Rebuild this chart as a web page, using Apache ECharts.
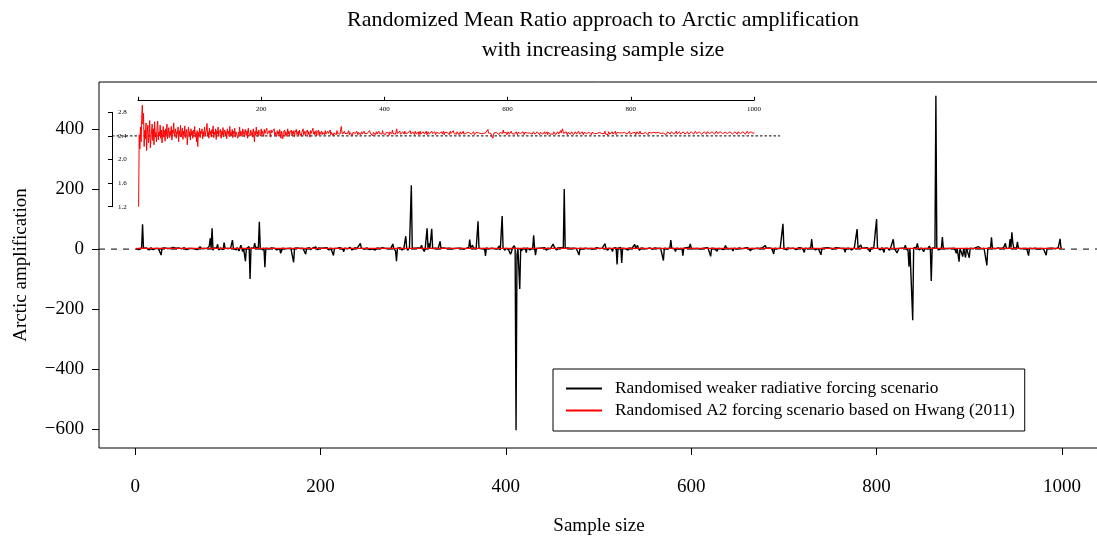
<!DOCTYPE html>
<html>
<head>
<meta charset="utf-8">
<script src="https://cdn.jsdelivr.net/npm/echarts@6.0.0/dist/echarts.min.js"></script>
<style>html,body{margin:0;padding:0;background:#fff}#c{width:1097px;height:539px}</style>
</head>
<body>
<div id="c"></div>
<script>
// ---- data ----
const titleText = 'Randomized Mean Ratio approach to Arctic amplification\nwith increasing sample size';
const blackName = 'Randomised weaker radiative forcing scenario';
const redName = 'Randomised A2 forcing scenario based on Hwang (2011)';
const xTicks = [0, 200, 400, 600, 800, 1000];
const yTicks = [-600, -400, -200, 0, 200, 400];
const insetXTicks = [0, 200, 400, 600, 800, 1000];
const insetYTicks = [1.2, 1.6, 2.0, 2.4, 2.8];
const refLineMain = 0;
const refLineInset = 2.4;

const blackValues = [
2,3,1,-2,4,2,5,83,3,-1, 2,4,1,3,-3,2,5,1,-2,3, 4,2,-1,3,2,5,1,-20,3,2, 1,4,-2,3,2,1,5,2,-3,4, 6,2,1,3,-1,2,4,3,-2,1,
3,2,5,1,-2,3,4,2,1,-1, 2,4,3,1,5,2,-2,3,4,8, 2,1,3,-3,2,4,1,3,5,10, 36,4,69,-4,3,6,2,5,16,-3, 2,4,1,3,-2,22,3,1,5,2,
4,-2,3,6,30,2,1,4,-3,5, 3,-6,2,13,4,-8,3,5,-40,2, 6,3,8,-100,4,2,9,3,20,5, 2,4,6,91,3,2,5,-3,4,-60, 3,2,5,1,-2,3,4,2,1,3,
2,4,-3,3,1,2,-14,-10,3,2, 5,1,3,-2,2,4,1,3,-3,2, -44,3,2,1,4,-2,3,2,5,1, 3,2,4,-17,2,1,3,5,-2,3, 2,4,1,3,7,2,-3,4,2,1,
3,2,-2,4,1,3,5,2,-3,2, 4,1,3,-21,2,4,-4,3,1,2, 5,2,3,1,-9,3,2,4,1,3, 2,6,1,-3,3,2,4,1,3,5, 2,7,19,3,-2,4,1,3,2,4,
1,3,-2,2,4,1,5,3,-3,2, 4,1,3,2,-2,3,5,1,4,2, 3,-3,2,4,1,3,6,17,2,4, -6,-40,3,2,4,5,2,-3,3,4, 6,43,3,-4,2,5,3,213,4,2,
8,3,-3,2,4,1,3,5,13,2, 4,-8,3,6,69,4,19,3,5,68, 2,4,-3,3,1,4,2,6,26,3, 2,1,4,-2,3,2,5,1,3,2, 4,1,-3,3,2,4,1,3,2,-2,
3,2,4,1,3,-2,2,5,3,6, 32,4,2,13,3,-2,4,3,5,93, 3,2,4,1,-3,3,2,-23,4,2, 3,1,4,-2,3,2,6,1,3,5, 2,4,11,-3,3,110,4,2,-4,3,
2,4,-3,3,-17,-10,3,6,11,4, -604,-20,4,5,-133,3,-6,2,4,-3, 3,-12,4,2,5,-3,3,2,4,46, 3,-20,2,4,1,3,-3,2,4,3, 2,5,1,-4,3,2,4,1,3,6,
17,8,3,2,-3,4,2,3,5,1, 3,4,200,3,2,-2,4,1,3,2, 4,1,3,5,-3,2,4,1,-20,3, 2,4,1,3,-2,3,5,2,1,4, 3,2,-3,4,1,3,2,5,1,3,
2,4,-3,3,5,6,18,3,2,-4, 3,2,4,1,-8,3,2,4,5,-51, 3,2,4,6,-46,3,2,4,1,3, 2,-3,4,1,3,2,5,4,16,3, 2,12,3,-4,2,4,1,3,2,5,
3,1,-3,2,4,2,3,1,5,2, 4,-2,3,2,1,4,3,5,2,-38, 3,2,4,1,3,6,4,30,3,2, 4,1,-8,3,2,4,1,3,-3,2, -22,3,2,4,5,1,3,6,17,3,
2,4,1,-3,3,2,4,5,1,3, 6,2,-3,3,4,1,2,5,3,2, -24,3,4,1,2,5,3,-7,2,4, 3,1,4,2,-2,3,12,4,2,3, 1,3,4,2,-6,3,2,4,1,3,
2,4,10,3,1,-3,2,4,3,2, 5,1,3,-6,2,4,3,1,5,2, 3,-2,4,2,1,3,5,2,4,12, 3,2,-3,4,1,3,2,5,-16,3, 2,4,1,3,-2,3,5,6,84,4,
2,3,-3,4,1,3,2,5,1,3, 4,2,-2,3,1,5,3,10,4,2, -3,-11,3,2,4,1,3,2,6,33, 3,2,4,-3,1,3,2,4,5,-19, 2,3,1,4,-2,3,5,2,8,3,
2,4,1,-3,3,5,11,2,4,1, 3,2,-2,4,3,-11,2,5,1,3, 4,2,-3,3,1,4,6,5,67,3, 5,2,14,3,1,-2,4,3,2,5, 3,1,-9,4,2,3,5,1,4,100,
4,2,3,-3,1,5,2,-11,3,4, 2,3,1,-4,3,5,7,33,4,2, 3,-13,-12,2,4,1,3,5,2,3, 13,2,4,-6,-59,3,5,2,-237,4, 2,3,6,19,4,-3,2,4,1,3,
-8,2,4,3,1,5,10,3,-106,4, 2,3,5,511,4,2,-3,3,1,4, 40,3,2,4,1,3,-2,2,4,3, 2,4,1,3,3,-14,2,4,-42,3, 2,4,-25,3,2,-28,4,3,2,-29,
3,2,4,1,3,2,5,1,4,8, 2,4,1,3,-3,2,4,3,-54,3, 2,4,5,39,3,2,4,1,3,2, 4,3,9,2,4,1,5,3,19,2, 4,6,3,33,5,56,20,4,2,3,
4,24,3,2,4,1,3,5,2,3, 4,2,3,-22,3,2,4,1,3,4, 3,2,5,1,4,-3,2,3,4,1, 3,5,-20,2,4,1,3,2,-3,3, 2,4,1,3,2,5,3,34,2,3
];

const redValues = [
1.20,2.42,2.18,2.55,2.30,2.70,2.92,2.60,2.78,2.22, 2.50,2.35,2.62,2.15,2.45,2.58,2.28,2.40,2.66,2.20,
2.17,2.48,2.60,2.32,2.52,2.25,2.64,2.38,2.46,2.30, 2.55,2.65,2.33,2.47,2.40,2.58,2.36,2.50,2.28,2.44,
2.56,2.38,2.49,2.31,2.52,2.42,2.60,2.35,2.45,2.54, 2.37,2.48,2.41,2.56,2.33,2.50,2.44,2.62,2.39,2.46,
2.52,2.36,2.47,2.43,2.55,2.30,2.49,2.41,2.58,2.38, 2.45,2.53,2.34,2.48,2.42,2.57,2.37,2.46,2.51,2.25,
2.44,2.55,2.39,2.47,2.33,2.52,2.41,2.48,2.36,2.50, 2.43,2.56,2.38,2.45,2.30,2.49,2.22,2.46,2.40,2.53,
2.37,2.48,2.44,2.52,2.35,2.47,2.41,2.55,2.39,2.46, 2.50,2.61,2.40,2.47,2.36,2.53,2.42,2.48,2.38,2.51,
2.44,2.57,2.37,2.46,2.42,2.52,2.34,2.49,2.43,2.55, 2.39,2.47,2.44,2.51,2.36,2.48,2.42,2.54,2.38,2.46,
2.50,2.41,2.47,2.35,2.52,2.44,2.48,2.39,2.56,2.42, 2.46,2.40,2.51,2.37,2.48,2.43,2.53,2.38,2.47,2.44,
2.50,2.36,2.46,2.42,2.55,2.40,2.48,2.44,2.39,2.52, 2.43,2.47,2.38,2.51,2.45,2.41,2.49,2.36,2.53,2.44,
2.47,2.40,2.50,2.42,2.46,2.38,2.52,2.44,2.30,2.48, 2.41,2.55,2.43,2.47,2.39,2.50,2.44,2.46,2.40,2.52,
2.42,2.48,2.45,2.39,2.51,2.44,2.47,2.41,2.53,2.43, 2.46,2.40,2.49,2.44,2.38,2.50,2.45,2.42,2.48,2.43,
2.52,2.41,2.46,2.44,2.39,2.49,2.43,2.47,2.40,2.51, 2.44,2.36,2.48,2.42,2.35,2.46,2.43,2.50,2.41,2.47,
2.45,2.39,2.52,2.43,2.48,2.41,2.46,2.44,2.50,2.40, 2.47,2.43,2.49,2.38,2.46,2.44,2.51,2.42,2.45,2.48,
2.41,2.50,2.44,2.47,2.39,2.46,2.43,2.52,2.42,2.45, 2.48,2.40,2.46,2.44,2.50,2.42,2.47,2.43,2.38,2.49,
2.44,2.46,2.41,2.53,2.43,2.47,2.42,2.45,2.49,2.40, 2.46,2.44,2.50,2.41,2.47,2.43,2.45,2.48,2.42,2.46,
2.44,2.47,2.42,2.49,2.43,2.45,2.41,2.48,2.44,2.46, 2.43,2.50,2.42,2.46,2.44,2.47,2.40,2.45,2.48,2.43,
2.46,2.42,2.49,2.44,2.47,2.41,2.45,2.43,2.51,2.56, 2.47,2.43,2.45,2.42,2.48,2.44,2.46,2.41,2.47,2.44,
2.45,2.49,2.42,2.46,2.43,2.48,2.44,2.40,2.46,2.45, 2.43,2.47,2.44,2.41,2.48,2.45,2.42,2.46,2.44,2.49,
2.42,2.45,2.47,2.43,2.46,2.40,2.48,2.44,2.45,2.42, 2.47,2.44,2.41,2.46,2.43,2.49,2.45,2.42,2.47,2.44,
2.40,2.46,2.45,2.48,2.42,2.44,2.47,2.43,2.46,2.41, 2.48,2.44,2.42,2.46,2.45,2.43,2.49,2.44,2.41,2.47,
2.45,2.42,2.46,2.44,2.48,2.43,2.45,2.41,2.47,2.44, 2.46,2.43,2.50,2.44,2.42,2.47,2.45,2.43,2.46,2.52,
2.44,2.47,2.42,2.45,2.48,2.43,2.46,2.44,2.41,2.47, 2.45,2.43,2.48,2.44,2.46,2.42,2.47,2.45,2.43,2.46,
2.44,2.49,2.43,2.45,2.41,2.47,2.44,2.46,2.42,2.48, 2.45,2.43,2.46,2.44,2.47,2.42,2.45,2.48,2.43,2.46,
2.44,2.41,2.47,2.45,2.43,2.46,2.44,2.48,2.42,2.45, 2.47,2.44,2.43,2.46,2.45,2.42,2.48,2.44,2.46,2.43,
2.45,2.47,2.42,2.44,2.46,2.43,2.49,2.45,2.44,2.41, 2.46,2.44,2.47,2.43,2.45,2.48,2.42,2.46,2.44,2.45,
2.43,2.46,2.44,2.47,2.42,2.45,2.48,2.44,2.46,2.43, 2.45,2.49,2.44,2.42,2.46,2.45,2.43,2.47,2.44,2.46,
2.42,2.45,2.47,2.44,2.43,2.46,2.45,2.48,2.43,2.44, 2.46,2.43,2.45,2.47,2.44,2.42,2.46,2.45,2.48,2.44,
2.43,2.46,2.44,2.45,2.47,2.42,2.45,2.44,2.46,2.43, 2.47,2.44,2.45,2.42,2.46,2.48,2.44,2.43,2.46,2.45,
2.44,2.47,2.43,2.45,2.46,2.44,2.48,2.51,2.45,2.43, 2.46,2.42,2.44,2.40,2.37,2.36,2.41,2.45,2.44,2.47,
2.43,2.46,2.45,2.44,2.47,2.42,2.45,2.46,2.44,2.43, 2.46,2.44,2.50,2.45,2.43,2.47,2.44,2.46,2.42,2.45,
2.47,2.44,2.43,2.46,2.45,2.48,2.44,2.42,2.46,2.45, 2.43,2.46,2.44,2.47,2.45,2.42,2.46,2.44,2.48,2.45,
2.44,2.46,2.43,2.45,2.47,2.44,2.42,2.46,2.45,2.43, 2.47,2.45,2.44,2.46,2.42,2.45,2.48,2.44,2.46,2.43,
2.45,2.47,2.44,2.43,2.46,2.45,2.42,2.47,2.44,2.46, 2.44,2.42,2.46,2.45,2.48,2.44,2.43,2.46,2.45,2.47,
2.43,2.45,2.44,2.47,2.42,2.46,2.45,2.44,2.48,2.43, 2.46,2.44,2.45,2.43,2.47,2.44,2.46,2.42,2.45,2.44,
2.47,2.45,2.43,2.46,2.44,2.49,2.45,2.43,2.52,2.48, 2.44,2.46,2.43,2.45,2.47,2.44,2.42,2.46,2.45,2.44,
2.46,2.43,2.45,2.47,2.44,2.46,2.42,2.45,2.44,2.47, 2.45,2.43,2.46,2.44,2.48,2.45,2.43,2.46,2.44,2.45,
2.47,2.44,2.42,2.46,2.45,2.43,2.47,2.44,2.46,2.45, 2.43,2.46,2.44,2.45,2.47,2.42,2.46,2.44,2.45,2.48,
2.44,2.46,2.43,2.45,2.44,2.47,2.45,2.42,2.46,2.44, 2.45,2.47,2.44,2.43,2.46,2.45,2.44,2.48,2.43,2.45,
2.46,2.44,2.42,2.47,2.45,2.43,2.46,2.44,2.45,2.47, 2.43,2.46,2.45,2.44,2.48,2.42,2.45,2.46,2.44,2.43,
2.47,2.45,2.44,2.46,2.43,2.45,2.47,2.44,2.42,2.46, 2.45,2.44,2.47,2.43,2.46,2.45,2.44,2.48,2.43,2.45,
2.46,2.44,2.45,2.43,2.47,2.44,2.46,2.42,2.45,2.47, 2.44,2.46,2.43,2.45,2.48,2.44,2.45,2.43,2.46,2.44,
2.47,2.45,2.43,2.46,2.44,2.45,2.47,2.42,2.46,2.45, 2.44,2.46,2.45,2.43,2.47,2.44,2.46,2.45,2.43,2.46,
2.45,2.44,2.47,2.43,2.46,2.45,2.44,2.48,2.44,2.45, 2.46,2.43,2.45,2.47,2.44,2.46,2.42,2.45,2.44,2.47,
2.45,2.44,2.46,2.43,2.45,2.47,2.44,2.46,2.45,2.43, 2.46,2.44,2.45,2.48,2.43,2.45,2.46,2.44,2.47,2.45,
2.43,2.46,2.44,2.45,2.47,2.44,2.46,2.43,2.45,2.46, 2.44,2.47,2.45,2.43,2.46,2.44,2.45,2.47,2.44,2.46,
2.45,2.43,2.46,2.44,2.48,2.45,2.44,2.46,2.43,2.45, 2.47,2.44,2.46,2.45,2.43,2.46,2.44,2.45,2.47,2.44,
2.46,2.45,2.43,2.47,2.44,2.46,2.45,2.44,2.46,2.43, 2.45,2.47,2.44,2.46,2.45,2.43,2.46,2.44,2.48,2.45,
2.44,2.46,2.45,2.43,2.47,2.44,2.46,2.45,2.44,2.46, 2.45,2.43,2.46,2.44,2.47,2.45,2.44,2.46,2.43,2.45,
2.47,2.44,2.46,2.45,2.43,2.46,2.44,2.45,2.47,2.44, 2.46,2.45,2.43,2.47,2.44,2.46,2.45,2.44,2.46,2.43,
2.45,2.47,2.44,2.46,2.45,2.43,2.46,2.44,2.48,2.45, 2.44,2.46,2.45,2.43,2.47,2.44,2.46,2.45,2.44,2.46
];

// ---- build chart ----
const sampleSizes = blackValues.map((_, i) => i + 1);
const blackData = blackValues.map((v, i) => [sampleSizes[i], v]);
const redData = redValues.map((v, i) => [sampleSizes[i], v]);
const FONT = '"Liberation Serif", "Times New Roman", serif';
const plain = v => String(v).replace('-', '\u2212');

const chart = echarts.init(document.getElementById('c'), null, { renderer: 'canvas' });
chart.setOption({
  animation: false,
  backgroundColor: '#fff',
  title: {
    text: titleText, left: 598, top: 0, textAlign: 'center',
    textStyle: { fontFamily: FONT, fontSize: 22, fontWeight: 'normal', lineHeight: 30, color: '#000' }
  },
  legend: {
    data: [blackName, redName], orient: 'vertical', left: 553, top: 369,
    padding: [11, 10, 12, 13], itemGap: 5, itemWidth: 36, itemHeight: 2, icon: 'rect',
    borderColor: '#000', borderWidth: 1, backgroundColor: '#fff',
    textStyle: { fontFamily: FONT, fontSize: 17.4, color: '#000', padding: [0, 0, 0, 8] }
  },
  grid: [
    { left: 99, width: 1000, top: 82, height: 366, show: true, borderColor: '#000', borderWidth: 1, backgroundColor: 'transparent', outerBoundsMode: 'none' },
    { left: 138, width: 616, top: 112.3, height: 94.4, outerBoundsMode: 'none' },
    { left: 112, width: 668, top: 112.3, height: 94.4, outerBoundsMode: 'none' }
  ],
  xAxis: [
    {
      type: 'value', gridIndex: 0, min: -39, max: 1040,
      axisLine: { show: false, onZero: false },
      splitLine: { show: false },
      axisTick: { show: true, length: 7, lineStyle: { color: '#000' }, customValues: xTicks },
      axisLabel: { customValues: xTicks, margin: 30, fontFamily: FONT, fontSize: 19, color: '#000', formatter: plain },
      name: 'Sample size', nameLocation: 'middle', nameGap: 69,
      nameTextStyle: { fontFamily: FONT, fontSize: 19, color: '#000' }
    },
    {
      type: 'value', gridIndex: 1, min: 0, max: 1000, interval: 200, position: 'top', offset: 12,
      axisLine: { show: true, onZero: false, lineStyle: { color: '#000', width: 1 } },
      splitLine: { show: false },
      axisTick: { show: true, inside: false, length: 3.5, lineStyle: { color: '#000' }, customValues: insetXTicks },
      axisLabel: { inside: true, margin: 5.5, fontFamily: FONT, fontSize: 7, color: '#000', formatter: plain,
        customValues: insetXTicks.filter(v => v > 0) }
    },
    {
      type: 'value', gridIndex: 2, min: -42, max: 1042, show: false
    }
  ],
  yAxis: [
    {
      type: 'value', gridIndex: 0, min: -663, max: 557,
      axisLine: { show: false, onZero: false },
      splitLine: { show: false },
      axisTick: { show: true, length: 7, lineStyle: { color: '#000' }, customValues: yTicks },
      axisLabel: { customValues: yTicks, margin: 15, fontFamily: FONT, fontSize: 19, color: '#000', formatter: plain },
      name: 'Arctic amplification', nameLocation: 'middle', nameGap: 68,
      nameTextStyle: { fontFamily: FONT, fontSize: 19, color: '#000' }
    },
    {
      type: 'value', gridIndex: 1, min: 1.2, max: 2.8, position: 'left', offset: 26,
      axisLine: { show: true, onZero: false, lineStyle: { color: '#000', width: 1 } },
      splitLine: { show: false },
      axisTick: { show: true, inside: false, length: 4, lineStyle: { color: '#000' }, customValues: insetYTicks },
      axisLabel: { inside: true, margin: 6, fontFamily: FONT, fontSize: 7, color: '#000',
        customValues: insetYTicks, formatter: v => Number(v).toFixed(1) }
    },
    {
      type: 'value', gridIndex: 2, min: 1.2, max: 2.8, show: false
    }
  ],
  series: [
    {
      type: 'line', name: 'zero', xAxisIndex: 0, yAxisIndex: 0, silent: true,
      data: [[-39, refLineMain], [1040, refLineMain]], symbol: 'none',
      lineStyle: { color: '#000', width: 1, type: [6, 6] }, z: 1
    },
    {
      type: 'line', name: blackName, xAxisIndex: 0, yAxisIndex: 0, data: blackData,
      symbol: 'none', sampling: null, color: '#000', lineStyle: { color: '#000', width: 1.4 }, z: 2
    },
    {
      type: 'line', name: redName, xAxisIndex: 0, yAxisIndex: 0, data: redData,
      symbol: 'none', color: '#ff0000', lineStyle: { color: '#ff0000', width: 1.3 }, z: 3
    },
    {
      type: 'line', name: 'inset ref', xAxisIndex: 2, yAxisIndex: 2, silent: true,
      data: [[-42, refLineInset], [1042, refLineInset]], symbol: 'none',
      lineStyle: { color: '#000', width: 1, type: [2.5, 2] }, z: 4
    },
    {
      type: 'line', name: 'inset', xAxisIndex: 1, yAxisIndex: 1, data: redData, clip: false,
      symbol: 'none', color: '#ff0000', lineStyle: { color: '#ff0000', width: 1 }, z: 5
    }
  ]
});
</script>
</body>
</html>
